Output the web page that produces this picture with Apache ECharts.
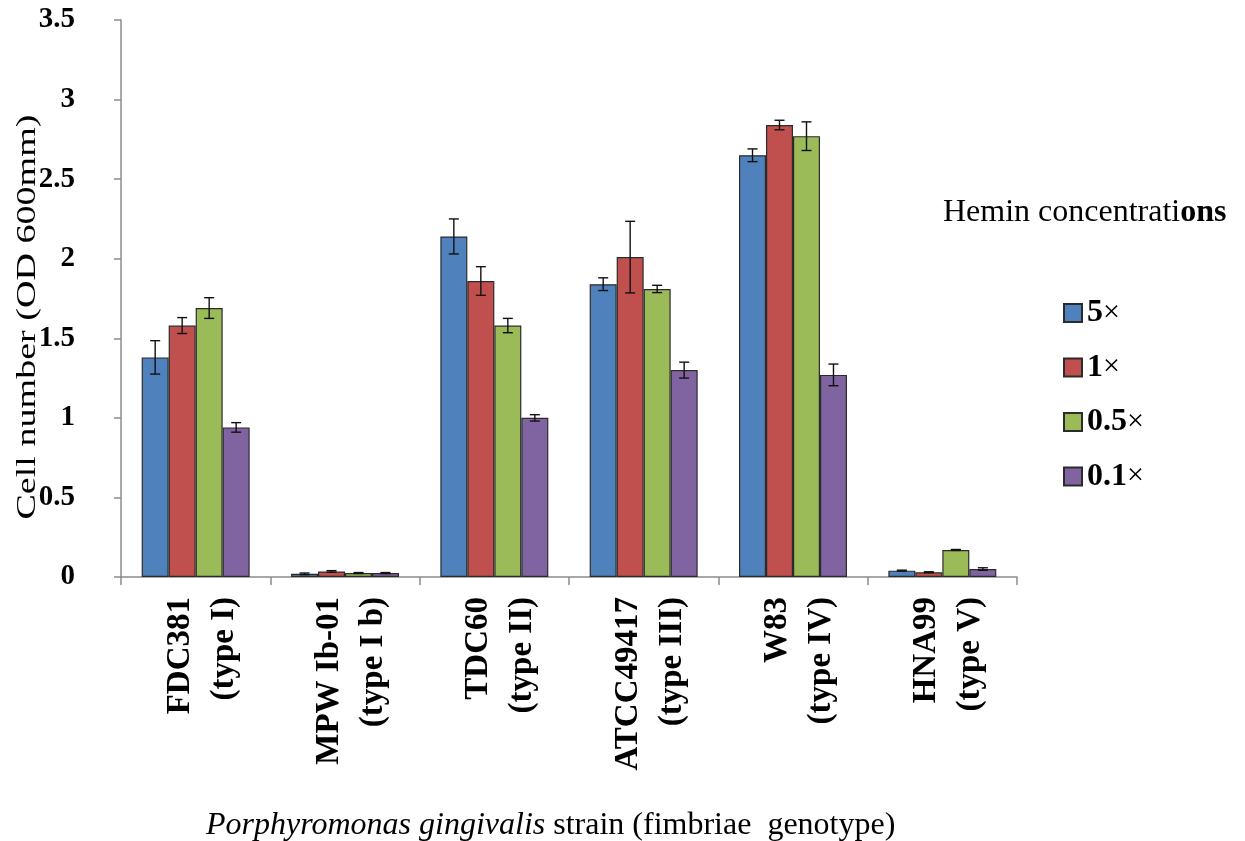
<!DOCTYPE html>
<html>
<head>
<meta charset="utf-8">
<script src="https://cdn.jsdelivr.net/npm/echarts@6/dist/echarts.min.js"></script>
<style>
html,body{margin:0;padding:0;background:#fff;}
#chart{width:1245px;height:841px;}
</style>
</head>
<body>
<div id="chart"></div>
<script>
const categories = ['FDC381\n(type I)', 'MPW Ib-01\n(type I b)', 'TDC60\n(type II)', 'ATCC49417\n(type III)', 'W83\n(type IV)', 'HNA99\n(type V)'];
const seriesNames = ['5×', '1×', '0.5×', '0.1×'];
const values5 = [1.38, 0.02, 2.14, 1.84, 2.65, 0.04];
const values1 = [1.58, 0.035, 1.86, 2.01, 2.84, 0.03];
const values05 = [1.69, 0.025, 1.58, 1.81, 2.77, 0.17];
const values01 = [0.94, 0.025, 1.00, 1.30, 1.27, 0.05];
const err5 = [0.105, 0.005, 0.11, 0.04, 0.04, 0.003];
const err1 = [0.05, 0.005, 0.09, 0.225, 0.03, 0.003];
const err05 = [0.065, 0.003, 0.045, 0.023, 0.09, 0.003];
const err01 = [0.03, 0.003, 0.02, 0.05, 0.068, 0.008];
const yTicks = [0, 0.5, 1, 1.5, 2, 2.5, 3, 3.5];

const colors = ['#4F81BD', '#C0504D', '#9BBB59', '#8064A2'];
const allValues = [values5, values1, values05, values01];
const allErrs = [err5, err1, err05, err01];
const GAP = 0.277;
const FONT = '"Liberation Serif", "Times New Roman", serif';

const chart = echarts.init(document.getElementById('chart'));

const barSeries = seriesNames.map((name, k) => ({
  name: name,
  type: 'bar',
  data: allValues[k],
  barGap: '0%',
  barCategoryGap: (GAP * 100) + '%',
  itemStyle: { color: colors[k], borderColor: '#2b2b2b', borderWidth: 1.2 },
  z: 2
}));

const errSeries = seriesNames.map((name, k) => ({
  type: 'custom',
  name: 'err' + k,
  z: 5,
  data: allValues[k].map((v, i) => [i, v - allErrs[k][i], v + allErrs[k][i]]),
  renderItem: function (params, api) {
    const xi = api.value(0);
    const lo = api.coord([xi, api.value(1)]);
    const hi = api.coord([xi, api.value(2)]);
    const band = api.size([1, 0])[0];
    const bw = band * (1 - GAP) / 4;
    const cx = hi[0] + (k - 1.5) * bw;
    const cap = 5;
    const st = { stroke: '#111', lineWidth: 1.4 };
    return {
      type: 'group',
      children: [
        { type: 'line', shape: { x1: cx, y1: hi[1], x2: cx, y2: lo[1] }, style: st },
        { type: 'line', shape: { x1: cx - cap, y1: hi[1], x2: cx + cap, y2: hi[1] }, style: st },
        { type: 'line', shape: { x1: cx - cap, y1: lo[1], x2: cx + cap, y2: lo[1] }, style: st }
      ]
    };
  }
}));

const labelBase = { fontFamily: FONT, fontSize: 33, fontWeight: 'bold', color: '#000' };

const option = {
  animation: false,
  backgroundColor: '#fff',
  textStyle: { fontFamily: FONT },
  grid: { left: 121, top: 20, right: 228, bottom: 264, containLabel: false, outerBoundsMode: 'none' },
  title: [
    {
      text: '{a|Hemin concentrati}{b|ons}',
      left: 938, top: 192,
      textStyle: {
        fontWeight: 'normal',
        rich: {
          a: { fontFamily: FONT, fontSize: 32, fontWeight: 'normal', color: '#000' },
          b: { fontFamily: FONT, fontSize: 32, fontWeight: 'bold', color: '#000' }
        }
      }
    },
    {
      text: '{i|Porphyromonas gingivalis}{n| strain (fimbriae  genotype)}',
      left: 201, top: 805,
      textStyle: {
        fontWeight: 'normal',
        rich: {
          i: { fontFamily: FONT, fontSize: 32, fontStyle: 'italic', fontWeight: 'normal', color: '#000' },
          n: { fontFamily: FONT, fontSize: 32, fontWeight: 'normal', color: '#000' }
        }
      }
    }
  ],
  graphic: [
    {
      type: 'text',
      x: 28, y: 317,
      rotation: Math.PI / 2,
      scaleX: 1.36,
      style: {
        text: 'Cell number (OD 600mm)',
        fontFamily: FONT, fontSize: 28, fill: '#000',
        align: 'center', verticalAlign: 'middle'
      }
    }
  ],
  legend: {
    data: seriesNames,
    orient: 'vertical',
    left: 1063, top: 297,
    padding: 0,
    itemWidth: 18, itemHeight: 18,
    itemGap: 22.5,
    icon: 'rect',
    formatter: function (name) {
      return '{b|' + name.replace('×', '') + '}{r|×}';
    },
    textStyle: {
      rich: {
        b: { fontFamily: FONT, fontSize: 32, fontWeight: 'bold', color: '#000', lineHeight: 30 },
        r: { fontFamily: FONT, fontSize: 30, color: '#000', lineHeight: 30 }
      }
    }
  },
  xAxis: {
    type: 'category',
    data: categories,
    axisLine: { show: true, lineStyle: { color: '#8c8c8c', width: 1.5 } },
    axisTick: { show: true, alignWithLabel: false, interval: 0, length: 8, lineStyle: { color: '#8c8c8c', width: 1.5 } },
    axisLabel: {
      interval: 0, rotate: 90, margin: 20,
      fontFamily: FONT, fontSize: 33, fontWeight: 'bold', color: '#000',
      formatter: function (v) {
        const parts = v.split('\n');
        return '{a|' + parts[0] + '}\n{b|' + parts[1] + '}';
      },
      rich: {
        a: Object.assign({ lineHeight: 57 }, labelBase),
        b: Object.assign({ lineHeight: 31 }, labelBase)
      }
    }
  },
  yAxis: {
    type: 'value',
    min: 0, max: 3.5, interval: 0.5,
    splitLine: { show: false },
    axisLine: { show: true, lineStyle: { color: '#8c8c8c', width: 1.5 } },
    axisTick: { show: true, length: 7, lineStyle: { color: '#8c8c8c', width: 1.5 } },
    axisLabel: {
      margin: 46,
      fontFamily: FONT, fontSize: 29, fontWeight: 'bold', color: '#000',
      formatter: function (v) { return yTicks.indexOf(v) >= 0 ? String(v) : ''; }
    }
  },
  series: barSeries.concat(errSeries)
};

chart.setOption(option);
</script>
</body>
</html>
